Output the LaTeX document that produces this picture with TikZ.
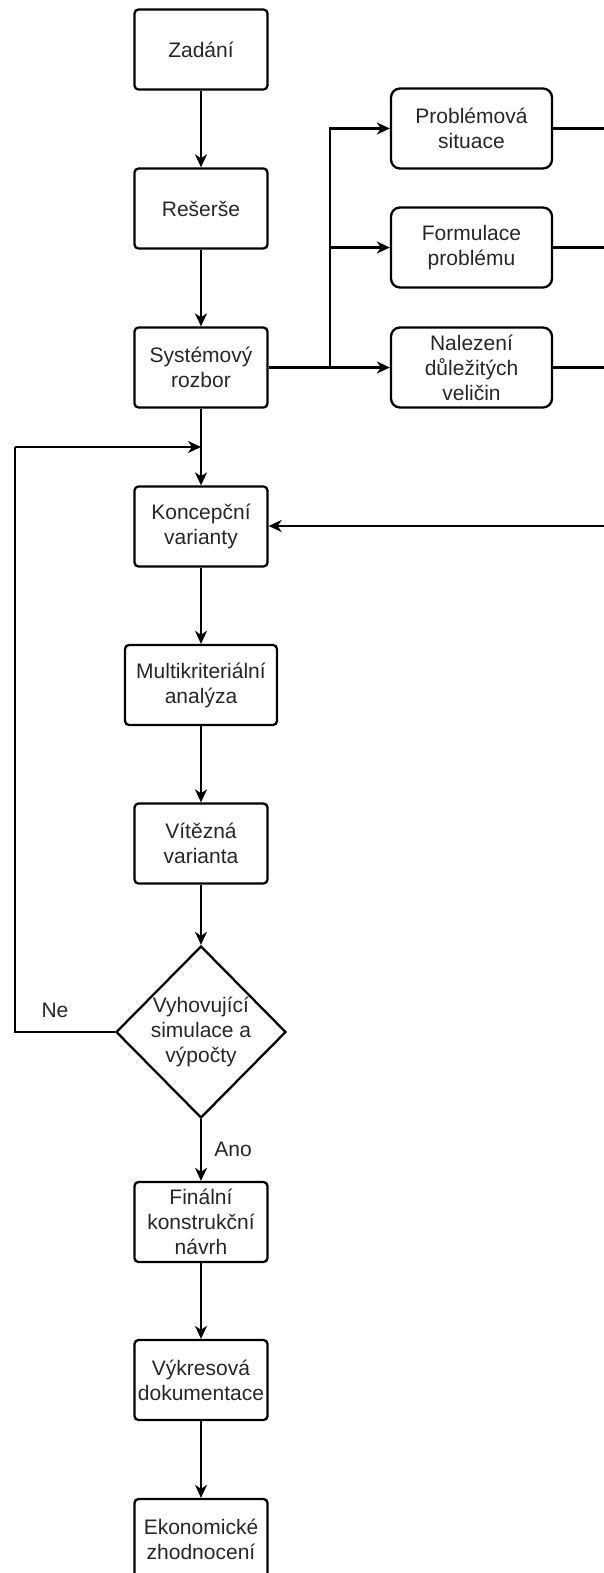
\documentclass[tikz,border=0pt]{standalone}
\usepackage{fontspec}
\setmainfont{Liberation Sans}
\usetikzlibrary{arrows.meta,shapes.geometric}
\begin{document}
\begin{tikzpicture}[x=1pt,y=-1pt,
  every node/.style={font=\fontsize{21}{25}\selectfont, text=black!85},
  box/.style={draw, line width=2.3pt, rounded corners=4pt, minimum width=133pt, minimum height=80pt, align=center, inner sep=2pt},
  rbox/.style={box, rounded corners=9pt, minimum width=161pt},
  conn/.style={line width=2.3pt},
  arr/.style={conn, -{Stealth[length=13pt,width=12pt,inset=4pt]}}
]
\useasboundingbox (0,0) rectangle (604,1573);
\node[box] (zad) at (201,49.5) {Zadání};
\node[box] (res) at (201,208.5) {Rešerše};
\node[box] (sys) at (201,367.5) {Systémový\\rozbor};
\node[box] (kon) at (201,526.5) {Koncepční\\varianty};
\node[box, minimum width=152pt] (mul) at (201,685) {Multikriteriální\\analýza};
\node[box] (vit) at (201,843.5) {Vítězná\\varianta};
\node[draw, diamond, line width=2.3pt, minimum width=170pt, minimum height=172pt, inner sep=0pt] (dec) at (201,1032) {};
\node[align=center] (dect) at (dec.center) {Vyhovující\\simulace a\\výpočty};
\node[box] (fin) at (201,1222) {Finální\\konstrukční\\návrh};
\node[box] (vyk) at (201,1380) {Výkresová\\dokumentace};
\node[box] (eko) at (201,1539) {Ekonomické\\zhodnocení};

\node[rbox] (pro) at (471.5,128.5) {Problémová\\situace};
\node[rbox] (for) at (471.5,247.5) {Formulace\\problému};
\node[rbox] (nal) at (471.5,367.5) {Nalezení\\důležitých\\veličin};

\node (ne) at (55,1010) {Ne};
\node (ano) at (233,1149) {Ano};

\coordinate (br) at (330,367.5);
\coordinate (e1) at (606,128.5);
\coordinate (e2) at (606,247.5);
\coordinate (e3) at (606,367.5);
\coordinate (e4) at (606,526);
\coordinate (lp) at (15,447);
\coordinate (jn) at (201,447);

\draw[arr] (zad) -- (res);
\draw[arr] (res) -- (sys);
\draw[arr] (sys.south) -- (kon.north);
\draw[arr] (sys.east) -- (nal.west);
\draw[arr] (br) |- (pro.west);
\draw[arr] (br |- for.west) -- (for.west);
\draw[conn] (pro.east) -- (e1);
\draw[conn] (for.east) -- (e2);
\draw[conn] (nal.east) -- (e3);
\draw[arr] (e4) -- (kon.east |- e4);
\draw[arr] (kon) -- (mul);
\draw[arr] (mul) -- (vit);
\draw[arr] (vit.south) -- (dec.north);
\draw[conn] (dec.west) -| (lp);
\draw[arr] (lp) -- (jn);
\draw[arr] (dec.south) -- (fin.north);
\draw[arr] (fin) -- (vyk);
\draw[arr] (vyk) -- (eko);
\end{tikzpicture}
\end{document}
